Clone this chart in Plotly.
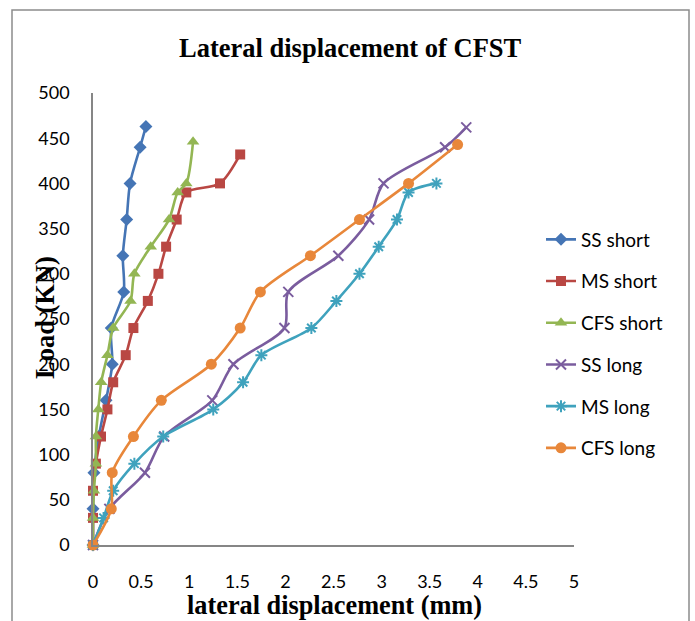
import plotly.graph_objects as go

# ---- data ----
ss_short_load = [0, 40, 80, 120, 160, 200, 240, 280, 320, 360, 400, 440, 463]
ss_short_disp = [0, 0, 0.01, 0.06, 0.135, 0.20, 0.19, 0.32, 0.31, 0.35, 0.385, 0.49, 0.55]

ms_short_load = [0, 30, 60, 90, 120, 150, 180, 210, 240, 270, 300, 330, 360, 390, 400, 432]
ms_short_disp = [0, 0, 0, 0.03, 0.083, 0.15, 0.21, 0.34, 0.42, 0.57, 0.68, 0.76, 0.87, 0.97, 1.32, 1.53]

cfs_short_load = [0, 30, 60, 90, 120, 150, 180, 210, 240, 270, 300, 330, 360, 390, 400, 446]
cfs_short_disp = [0, 0, 0.01, 0.03, 0.03, 0.055, 0.085, 0.15, 0.21, 0.39, 0.43, 0.60, 0.79, 0.88, 0.97, 1.04]

ss_long_load = [0, 40, 80, 120, 160, 200, 240, 280, 320, 360, 400, 440, 462]
ss_long_disp = [0, 0.17, 0.54, 0.74, 1.24, 1.46, 1.99, 2.03, 2.55, 2.87, 3.02, 3.66, 3.88]

ms_long_load = [0, 30, 60, 90, 120, 150, 180, 210, 240, 270, 300, 330, 360, 390, 400]
ms_long_disp = [0, 0.11, 0.21, 0.43, 0.73, 1.25, 1.56, 1.75, 2.27, 2.53, 2.77, 2.97, 3.16, 3.28, 3.57]

cfs_long_load = [0, 40, 80, 120, 160, 200, 240, 280, 320, 360, 400, 443]
cfs_long_disp = [0, 0.19, 0.20, 0.42, 0.71, 1.23, 1.53, 1.74, 2.26, 2.77, 3.28, 3.79]

x_ticks = [0, 0.5, 1, 1.5, 2, 2.5, 3, 3.5, 4, 4.5, 5]
y_ticks = [0, 50, 100, 150, 200, 250, 300, 350, 400, 450, 500]

series = [
    ("SS short", ss_short_disp, ss_short_load, "#4575B5", dict(symbol="diamond", size=10)),
    ("MS short", ms_short_disp, ms_short_load, "#B94743", dict(symbol="square", size=10)),
    ("CFS short", cfs_short_disp, cfs_short_load, "#93B653", dict(symbol="triangle-up", size=11)),
    ("SS long", ss_long_disp, ss_long_load, "#7A5C9E", dict(symbol="x-thin-open", size=10, line=dict(width=2, color="#7A5C9E"))),
    ("MS long", ms_long_disp, ms_long_load, "#3FA2BD", dict(symbol="asterisk-open", size=10, line=dict(width=2, color="#3FA2BD"))),
    ("CFS long", cfs_long_disp, cfs_long_load, "#E8873A", dict(symbol="circle", size=11)),
]

fig = go.Figure()
for i, (name, xs, ys, col, mk) in enumerate(series):
    mk = dict(mk)
    mk.setdefault("color", col)
    fig.add_trace(go.Scatter(
        x=xs, y=ys, name=name, mode="lines+markers",
        line=dict(color=col, width=2.6, shape="spline", smoothing=0.8),
        marker=mk, cliponaxis=False, legendgroup=name,
    ))

W, H = 695, 621
L, R, T, B = 93, 121, 93, 76
pw, ph = W - L - R, H - T - B

def px(xp):
    return (xp - L) / pw

def py(yp):
    return (H - B - yp) / ph

axis_common = dict(showline=True, linecolor="#868686", linewidth=1.5, showgrid=False,
                   zeroline=False, ticks="outside", tickcolor="rgba(0,0,0,0)",
                   tickfont=dict(family="Lato", size=18, color="#000"))

fig.update_layout(
    width=W, height=H, margin=dict(l=L, r=R, t=T, b=B, pad=0),
    paper_bgcolor="white", plot_bgcolor="white",
    showlegend=True,
    legend=dict(x=px(541), y=py(344), xanchor="left", yanchor="middle",
                font=dict(family="Lato", size=19, color="#000"),
                tracegroupgap=14, bgcolor="rgba(0,0,0,0)"),
    xaxis=dict(range=[0, 5], tickvals=x_ticks, ticklen=20, **axis_common),
    yaxis=dict(range=[0, 500], tickvals=y_ticks, ticklen=18, **axis_common),
    shapes=[dict(type="rect", xref="paper", yref="paper",
                 x0=px(12), x1=px(689), y0=py(640), y1=py(10),
                 line=dict(color="#8c8c8c", width=1.5), fillcolor="rgba(0,0,0,0)")],
    annotations=[
        dict(text="<b>Lateral displacement of CFST</b>", xref="paper", yref="paper",
             x=px(350), y=py(48), xanchor="center", yanchor="middle", showarrow=False,
             font=dict(family="Liberation Serif", size=26.5, color="#000")),
        dict(text="<b>lateral displacement (mm)</b>", xref="paper", yref="paper",
             x=px(334), y=py(605), xanchor="center", yanchor="middle", showarrow=False,
             font=dict(family="Liberation Serif", size=26.3, color="#000")),
        dict(text="<b>Load (KN)</b>", xref="paper", yref="paper", textangle=-90,
             x=px(45), y=py(318), xanchor="center", yanchor="middle", showarrow=False,
             font=dict(family="Liberation Serif", size=26.5, color="#000")),
    ],
)

fig.write_html("out.html")
